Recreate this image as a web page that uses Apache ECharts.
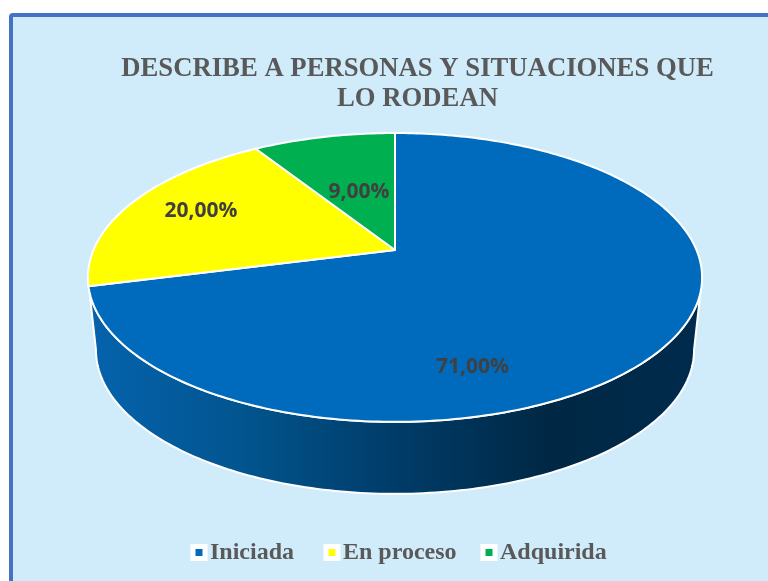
<!DOCTYPE html>
<html><head><meta charset="utf-8">
<style>html,body{margin:0;padding:0;background:#fff}#c{width:768px;height:581px}</style>
<script src="https://cdn.jsdelivr.net/npm/echarts@6/dist/echarts.min.js"></script>
</head><body><div id="c"></div>
<script>
const titleText = 'DESCRIBE A PERSONAS Y SITUACIONES QUE\nLO RODEAN';
const categories = ['Iniciada', 'En proceso', 'Adquirida'];
const values = [71, 20, 9];
const labels = ['71,00%', '20,00%', '9,00%'];
const colors = ['#006BBD', '#FFFF00', '#00AF50'];

// layout of the tilted pie
const apex = {x: 395, y: 250}, K = 0.19;
const top3d = {sx: 301.5, sy: 139.2};
const low3d = {x: 395, y: 322.6, sx: 293.6, sy: 138.7};
const labelOffset = [[77.5, 117.5], [-194, -38.5], [-36, -57.5]];
const total = values.reduce((a, b) => a + b, 0);
const project = (deg, c, s) => {
  const t = deg * Math.PI / 180, x = Math.sin(t), y = Math.cos(t), d = 1 + K * y;
  return [c.x + s.sx * x / d, c.y - s.sy * y / d];
};
const arc = (from, to, c, s) => {
  const pts = [], n = Math.max(2, Math.ceil(Math.abs(to - from)));
  for (let i = 0; i <= n; i++) pts.push(project(from + (to - from) * i / n, c, s));
  return pts;
};
const edge = Math.asin(K) * 180 / Math.PI;
const wall = {
  type: 'polygon',
  shape: {points: arc(90 + edge, 270 - edge, apex, top3d)
    .concat(arc(270 - edge, 90 + edge, low3d, low3d))},
  style: {
    fill: new echarts.graphic.LinearGradient(0, 0, 1, 0, [
      {offset: 0, color: '#0563AD'}, {offset: 0.25, color: '#02558F'},
      {offset: 0.5, color: '#003C69'}, {offset: 0.75, color: '#002844'},
      {offset: 1, color: '#002B4D'}]),
    stroke: '#fff', lineWidth: 2, lineJoin: 'round'
  }
};
const renderSlice = idx => (params, api) => {
  const before = values.slice(0, idx).reduce((a, b) => a + b, 0);
  const a0 = before / total * 360, a1 = (before + api.value(0)) / total * 360;
  const children = [];
  if (idx === 0) children.push(wall);
  children.push({
    type: 'polygon',
    shape: {points: [[apex.x, apex.y]].concat(arc(a0, a1, apex, top3d))},
    style: {fill: colors[idx], stroke: '#fff', lineWidth: 2, lineJoin: 'round'}
  });
  children.push({
    type: 'text', z2: 50,
    style: {
      x: apex.x + labelOffset[idx][0], y: apex.y + labelOffset[idx][1],
      text: labels[idx], align: 'center', verticalAlign: 'middle',
      font: 'bold 21px "Open Sans"', fill: '#404040'
    }
  });
  return {type: 'group', children};
};
const legendLeft = [190.5, 323.5, 480.5];
const chart = echarts.init(document.getElementById('c'), null, {renderer: 'canvas'});
chart.setOption({
  animation: false,
  backgroundColor: '#fff',
  title: {
    text: titleText, left: 412.5, top: 49, textAlign: 'center',
    textStyle: {fontFamily: 'Liberation Serif', fontWeight: 'bold', fontSize: 26.7, lineHeight: 30, color: '#595959'}
  },
  graphic: [{
    type: 'rect', silent: true, z: -1,
    shape: {x: 11, y: 15, width: 800, height: 620, r: 2},
    style: {fill: '#D0ECFB', stroke: '#4472C4', lineWidth: 4}
  }],
  legend: categories.map((name, i) => ({
    data: [name], left: legendLeft[i], top: 540.5, padding: 0,
    icon: 'rect', itemWidth: 12, itemHeight: 12, itemGap: 0,
    itemStyle: {borderColor: '#fff', borderWidth: 5},
    textStyle: {fontFamily: 'Liberation Serif', fontWeight: 'bold', fontSize: 24, color: '#595959'},
    selectedMode: false
  })),
  series: categories.map((name, i) => ({
    type: 'custom', name, coordinateSystem: 'none',
    itemStyle: {color: colors[i]},
    data: [[values[i]]],
    renderItem: renderSlice(i)
  }))
});
</script></body></html>
